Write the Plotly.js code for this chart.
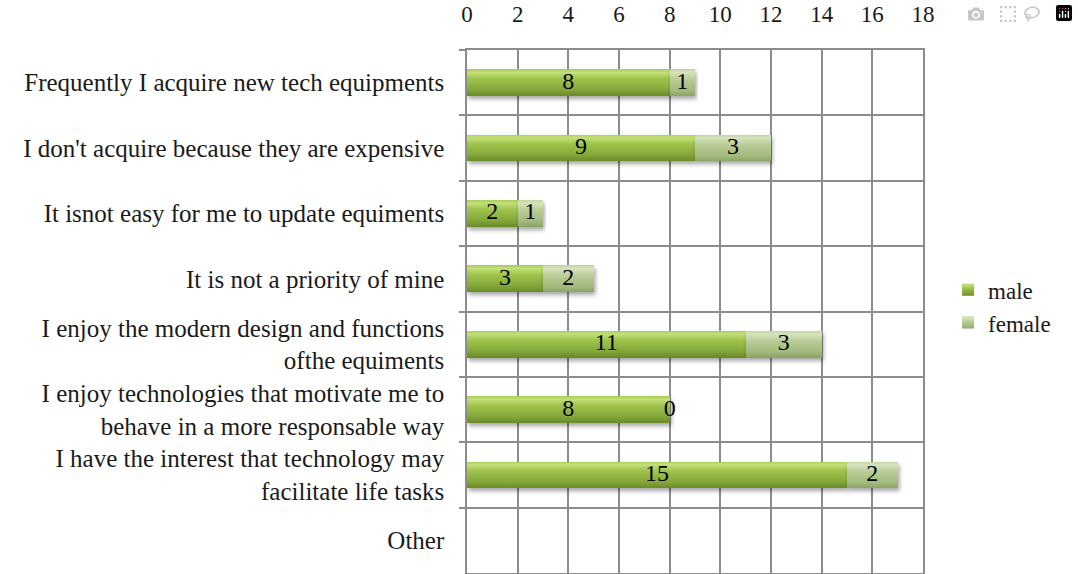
<!DOCTYPE html>
<html>
<head>
<meta charset="utf-8">
<script src="https://cdn.plot.ly/plotly-3.0.1.min.js"></script>
</head>
<body style="margin:0">
<div id="chart" style="width:1078px;height:574px"></div>
<script>
// Survey answers about acquiring technology equipment, split by gender
const categories = [
  "Frequently I acquire new tech equipments",
  "I don't acquire because they are expensive",
  "It isnot easy for me to update equiments",
  "It is not a priority of mine",
  "I enjoy the modern design and functions<br>ofthe equiments",
  "I enjoy technologies that motivate me to<br>behave in a more responsable way",
  "I have the interest that technology may<br>facilitate life tasks",
  "Other"
];
const male   = [8, 9, 2, 3, 11, 8, 15, null];
const female = [1, 3, 1, 2, 3, 0, 2, null];
const xTicks = [0, 2, 4, 6, 8, 10, 12, 14, 16, 18];

const GRID = "#8c8c8c";

// Label positions: centre of each stacked segment
const maleMid = male.map(v => v == null ? null : v / 2);
const femaleMid = female.map((v, i) => v == null ? null : male[i] + v / 2);

const traces = [
  {
    type: "bar", orientation: "h", name: "male",
    y: categories, x: male,
    marker: { color: "#8db23e", line: { width: 0 } },
    hoverinfo: "x+name"
  },
  {
    type: "bar", orientation: "h", name: "female",
    y: categories, x: female,
    marker: { color: "#b3c78f", line: { width: 0 } },
    hoverinfo: "x+name"
  },
  {
    type: "scatter", mode: "text", showlegend: false, hoverinfo: "skip",
    y: categories, x: maleMid,
    text: male.map(v => v == null ? "" : String(v)),
    textfont: { size: 24, color: "#000" },
    cliponaxis: false
  },
  {
    type: "scatter", mode: "text", showlegend: false, hoverinfo: "skip",
    y: categories, x: femaleMid,
    text: female.map(v => v == null ? "" : String(v)),
    textfont: { size: 24, color: "#000" },
    cliponaxis: false
  }
];

const layout = {
  width: 1078, height: 574,
  margin: { l: 467, r: 155, t: 50, b: 1, pad: 0 },
  barmode: "stack", bargap: 0.59,
  font: { family: "Liberation Serif", size: 22, color: "#1a1a1a" },
  showlegend: true,
  legend: {
    x: 1.055, xanchor: "left", y: 0.51, yanchor: "middle", traceorder: "normal",
    font: { size: 23 },
    itemwidth: 30, tracegroupgap: 8, bgcolor: "rgba(0,0,0,0)"
  },
  xaxis: {
    side: "top", range: [0, 18], tickvals: xTicks, ticktext: xTicks.map(String),
    tickfont: { size: 23 },
    showgrid: true, gridcolor: GRID, gridwidth: 1.5,
    showline: true, linecolor: GRID, linewidth: 1.5, mirror: true,
    ticks: "", ticklabelstandoff: 17, zeroline: false, fixedrange: true
  },
  yaxis: {
    type: "category", autorange: "reversed",
    tickfont: { size: 25 },
    tickson: "boundaries", ticks: "outside", ticklen: 6, tickcolor: GRID, tickwidth: 1.5,
    showgrid: true, gridcolor: GRID, gridwidth: 1.5,
    showline: true, linecolor: GRID, linewidth: 1.5, mirror: true,
    ticklabelstandoff: 16, fixedrange: true
  }
};

// Shaded fills and soft shadow for the bars and legend swatches
function shadeBars(gd) {
  const svg = gd.querySelector(".main-svg");
  const NS = "http://www.w3.org/2000/svg";
  let defs = svg.querySelector("defs");
  if (!defs) { defs = document.createElementNS(NS, "defs"); svg.insertBefore(defs, svg.firstChild); }
  defs.insertAdjacentHTML("beforeend", `
    <linearGradient id="gMale" x1="0" y1="0" x2="0" y2="1">
      <stop offset="0" stop-color="#a9cc5a"/>
      <stop offset="0.12" stop-color="#c4e07a"/>
      <stop offset="0.35" stop-color="#9fc44c"/>
      <stop offset="0.75" stop-color="#84a83a"/>
      <stop offset="1" stop-color="#688a2a"/>
    </linearGradient>
    <linearGradient id="gFemale" x1="0" y1="0" x2="0" y2="1">
      <stop offset="0" stop-color="#c2d4a0"/>
      <stop offset="0.12" stop-color="#d6e3bd"/>
      <stop offset="0.4" stop-color="#b8cb95"/>
      <stop offset="0.8" stop-color="#a2b97c"/>
      <stop offset="1" stop-color="#8aa265"/>
    </linearGradient>
    <filter id="barShadow" x="-5%" y="-20%" width="115%" height="160%">
      <feDropShadow dx="1.5" dy="3" stdDeviation="2" flood-color="#000" flood-opacity="0.35"/>
    </filter>`);
  const fills = ["url(#gMale)", "url(#gFemale)"];
  gd.querySelectorAll(".barlayer .trace").forEach((t, i) => {
    t.querySelectorAll("path").forEach(p => {
      p.style.fill = fills[i];
      p.style.filter = "url(#barShadow)";
    });
  });
  gd.querySelectorAll(".legend .traces").forEach((t, i) => {
    t.querySelectorAll(".legendpoints path").forEach(p => { p.style.fill = fills[i]; });
  });
}

Plotly.newPlot("chart", traces, layout).then(shadeBars);
</script>
</body>
</html>
